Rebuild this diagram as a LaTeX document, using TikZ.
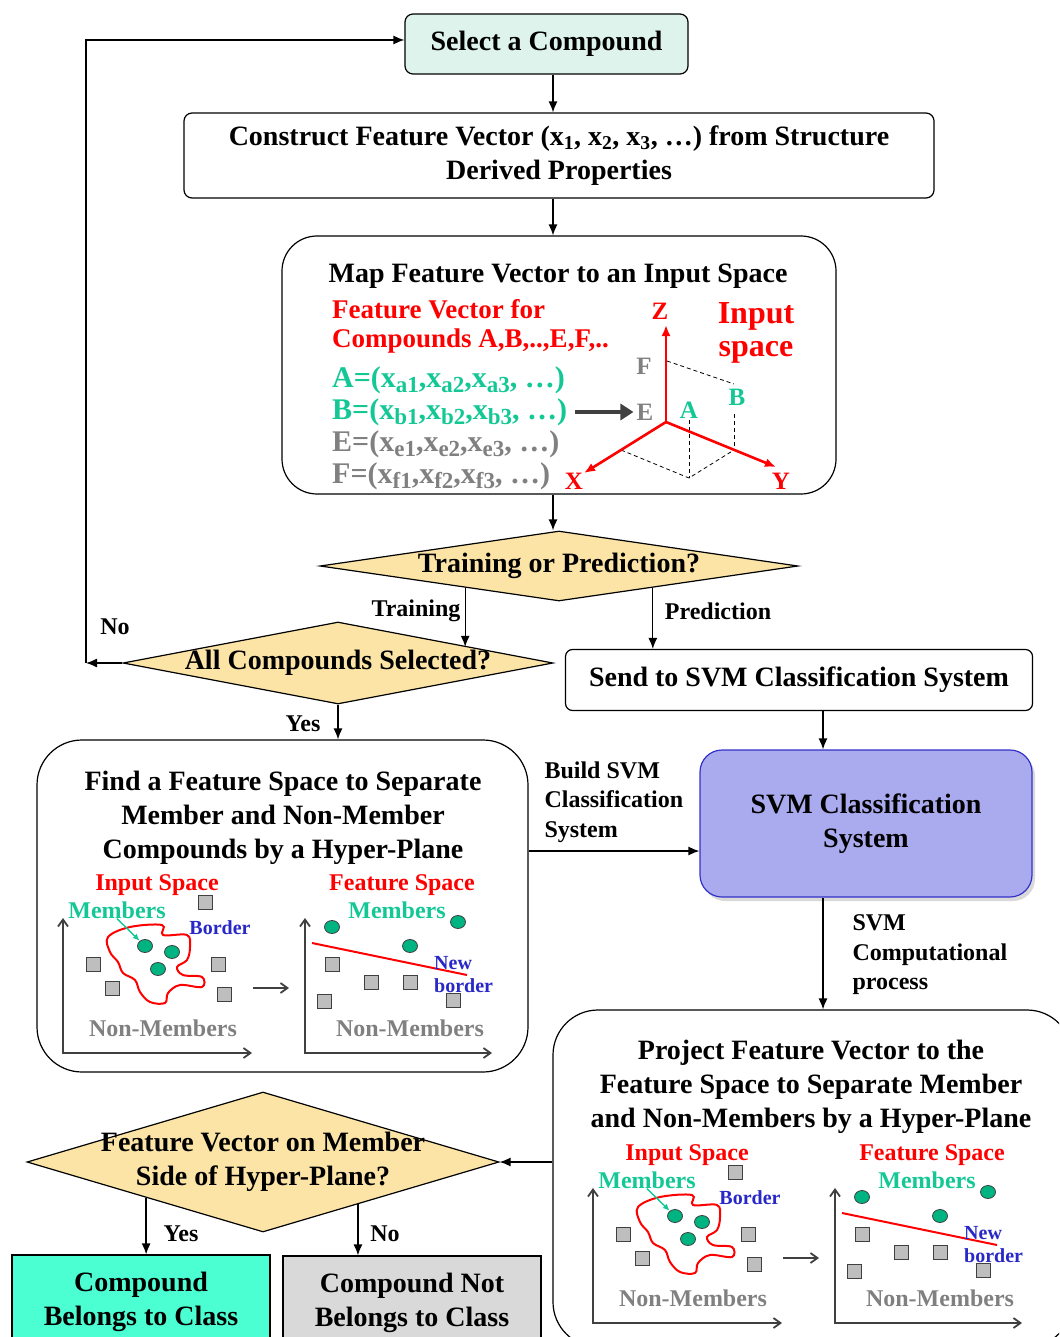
\documentclass[tikz,border=0pt]{standalone}
\usepackage{fontspec}
\setmainfont{Liberation Serif}
\usepackage{tikz}
\usetikzlibrary{arrows.meta,positioning,shapes.geometric,shadows}

\definecolor{mintfill}{RGB}{222,243,235}
\definecolor{askfill}{RGB}{251,228,166}
\definecolor{svmfill}{RGB}{170,170,238}
\definecolor{svmdraw}{RGB}{50,50,200}
\definecolor{yesfill}{RGB}{75,255,210}
\definecolor{nofill}{RGB}{217,217,217}
\definecolor{memgreen}{RGB}{20,200,150}
\definecolor{dotgreen}{RGB}{0,180,130}
\definecolor{bordblue}{RGB}{40,40,200}
\definecolor{nongrey}{RGB}{128,128,128}
\definecolor{sqfill}{RGB}{190,190,190}
\definecolor{axgrey}{RGB}{64,64,64}

% larger subscripts for the feature vectors
\newcommand{\vsub}[1]{\raisebox{-0.35ex}{\fontsize{23}{23}\selectfont #1}}

% the two small "input space -> feature space" plots (drawn in the frame of the Find box)
\newcommand{\spaceplots}{%
  % input space
  \draw[axis] (63,918) -- (63,1053) -- (252,1053);
  \draw[hull] plot[smooth cycle, tension=0.6] coordinates {(108,937) (130,927) (162,925) (163,935) (187,935)
    (190,947) (187,960) (177,967) (183,975) (202,977) (202,987) (180,985) (168,993) (165,1003)
    (150,1002) (140,992) (135,980) (123,973) (118,962) (110,952)};
  \node[spacelbl, text=red] (inlbl) at (157,885) {Input Space};
  \node[spacelbl, text=memgreen] (inmem) at (117,910) {Members};
  \node[bordlbl] (inbord) at (220,928) {Border};
  \node[spacelbl, text=nongrey] (innon) at (163,1028) {Non-Members};
  \node[member] (ina) at (145,946) {};
  \node[member] (inb) at (172,952) {};
  \node[member] (inc) at (158,969) {};
  \node[nonmember] (ins1) at (205,902) {};
  \node[nonmember] (ins2) at (93,964) {};
  \node[nonmember] (ins3) at (112,988) {};
  \node[nonmember] (ins4) at (218,964) {};
  \node[nonmember] (ins5) at (224,994) {};
  \draw[memarrow] (inmem.south) -- (ina);
  \draw[steparrow] (253,988) -- (289,988);
  % feature space
  \draw[axis] (305,918) -- (305,1053) -- (492,1053);
  \node[spacelbl, text=red] (ftlbl) at (402,885) {Feature Space};
  \node[spacelbl, text=memgreen] (ftmem) at (397,910) {Members};
  \node[spacelbl, text=nongrey] (ftnon) at (410,1028) {Non-Members};
  \draw[red, line width=2pt] (312,943) -- (467,975);
  \node[bordlbl, anchor=west, align=left] (ftbord) at (434,975) {New\\border};
  \node[member] (fta) at (332,927) {};
  \node[member] (ftb) at (458,922) {};
  \node[member] (ftc) at (410,946) {};
  \node[nonmember] (fts1) at (332,964) {};
  \node[nonmember] (fts2) at (371,982) {};
  \node[nonmember] (fts3) at (410,982) {};
  \node[nonmember] (fts4) at (324,1001) {};
  \node[nonmember] (fts5) at (453,1000) {};
}

\begin{document}
\begin{tikzpicture}[
  x=1pt, y=-1pt,
  font=\fontsize{28}{34}\selectfont\bfseries,
  box/.style={draw, rounded corners=8pt, line width=1.2pt, align=center, inner sep=0pt},
  endbox/.style={draw, line width=1.2pt, align=center, inner sep=0pt},
  decision/.style={diamond, draw, fill=askfill, line width=1.2pt, inner sep=0pt},
  lbl/.style={font=\fontsize{24}{29.5}\selectfont\bfseries, align=left},
  vecline/.style={font=\fontsize{30}{30}\selectfont\bfseries, anchor=west, align=left, inner sep=0pt},
  ptlbl/.style={font=\fontsize{25}{28}\selectfont\bfseries, inner sep=0pt},
  spacelbl/.style={font=\fontsize{24}{26}\selectfont\bfseries, inner sep=0pt},
  bordlbl/.style={font=\fontsize{20}{23}\selectfont\bfseries, text=bordblue, inner sep=0pt},
  member/.style={ellipse, draw=black!75, fill=dotgreen, minimum width=15pt, minimum height=13pt, inner sep=0pt, line width=0.8pt},
  nonmember/.style={draw=axgrey, fill=sqfill, minimum size=14pt, inner sep=0pt, line width=0.8pt},
  arrow/.style={-{Latex[length=11pt,width=9pt]}, line width=1.3pt},
  axis/.style={{Straight Barb[length=7pt,width=10pt]}-{Straight Barb[length=7pt,width=10pt]}, draw=axgrey, line width=1.8pt},
  hull/.style={draw=red, line width=2pt},
  memarrow/.style={-{Latex[length=7pt,width=6pt]}, draw=memgreen, line width=1.4pt},
  steparrow/.style={-{Straight Barb[length=7pt,width=10pt]}, draw=axgrey, line width=1.8pt},
  redaxis/.style={-{Latex[length=11pt,width=9pt]}, draw=red, line width=2.6pt},
  greyarrow/.style={-{Triangle[length=13pt,width=16pt]}, draw=axgrey, fill=axgrey, line width=4.5pt}
]
\useasboundingbox (0,0) rectangle (1059,1337);
\clip (0,0) rectangle (1059,1337);

\coordinate (midcol) at (553,0);
\coordinate (svmcol) at (823,0);
\coordinate (buildrow) at (0,851);
\coordinate (noturn) at (86,663);

\node[box, fill=mintfill, minimum width=283pt, minimum height=60pt] (select) at (546.5,44) {Select a Compound};

\node[box, minimum width=750pt, minimum height=85pt] (construct) at (559,155.5)
  {Construct Feature Vector (x\textsubscript{1}, x\textsubscript{2}, x\textsubscript{3}, …) from Structure\\Derived Properties};

% input space box
\node[box, rounded corners=35pt, minimum width=554pt, minimum height=258pt] (map) at (559,365) {};
\node (maptitle) at (558,276) {Map Feature Vector to an Input Space};
\node[vecline, font=\fontsize{27}{29}\selectfont\bfseries, text=red] (vecfor) at (332,326) {Feature Vector for\\Compounds A,B,..,E,F,..};
\node[vecline, text=memgreen] (veca) at (332,380) {A=(x\vsub{a1},x\vsub{a2},x\vsub{a3}, …)};
\node[vecline, text=memgreen] (vecb) at (332,412) {B=(x\vsub{b1},x\vsub{b2},x\vsub{b3}, …)};
\node[vecline, text=nongrey] (vece) at (332,444) {E=(x\vsub{e1},x\vsub{e2},x\vsub{e3}, …)};
\node[vecline, text=nongrey] (vecf) at (332,476) {F=(x\vsub{f1},x\vsub{f2},x\vsub{f3}, …)};
\node[text=red, font=\fontsize{32}{33}\selectfont\bfseries, align=center] (inspace) at (756,333) {Input\\space};

\coordinate (orig) at (666,422);
\draw[dash pattern=on 4pt off 3pt, line width=0.8pt] (667,361) -- (734,384);
\draw[dash pattern=on 4pt off 3pt, line width=0.8pt] (734,414) -- (734,450);
\draw[dash pattern=on 4pt off 3pt, line width=0.8pt] (621,450) -- (689,478) -- (734,450);
\draw[dash pattern=on 4pt off 3pt, line width=0.8pt] (689,420) -- (689,478);
\draw[redaxis] (orig) -- (666,325);
\draw[redaxis] (orig) -- (584,473);
\draw[redaxis] (orig) -- (776,467);
\node[ptlbl, text=red] (zlbl) at (660,311) {Z};
\node[ptlbl, text=red] (xlbl) at (574,481) {X};
\node[ptlbl, text=red] (ylbl) at (781,481) {Y};
\node[ptlbl, text=nongrey] (flbl) at (644,366) {F};
\node[ptlbl, text=nongrey] (elbl) at (645,412) {E};
\node[ptlbl, text=memgreen] (albl) at (689,410) {A};
\node[ptlbl, text=memgreen] (blbl) at (737,397) {B};
\draw[greyarrow, shorten <=8pt, shorten >=3pt] (vecb.east) -- (elbl.west);

\node[decision, minimum width=478pt, minimum height=70pt] (train) at (559,566) {};
\node (traintext) at (train) {Training or Prediction?};

\node[decision, minimum width=430pt, minimum height=82pt] (allsel) at (338,663) {};
\node (allseltext) at (allsel) {All Compounds Selected?};

\node[box, rounded corners=7pt, minimum width=467pt, minimum height=61pt] (send) at (799,680) {Send to SVM Classification System};

\node[box, fill=svmfill, draw=svmdraw, rounded corners=22pt, minimum width=332pt, minimum height=147pt,
  drop shadow={shadow xshift=3pt, shadow yshift=-4pt, opacity=0.3}] (svm) at (866,823.5) {SVM Classification\\System};

% training side: find the feature space
\node[box, rounded corners=45pt, minimum width=491pt, minimum height=332pt] (find) at (282.5,906) {};
\node[align=center] (findtitle) at (283,818) {Find a Feature Space to Separate\\Member and Non-Member\\Compounds by a Hyper-Plane};
\begin{scope}[name prefix=find-]
  \spaceplots
\end{scope}

% prediction side: project into the feature space
\node[box, rounded corners=45pt, minimum width=519pt, minimum height=337pt] (project) at (812.5,1178.5) {};
\node[align=center] (projtitle) at (811,1087) {Project Feature Vector to the\\Feature Space to Separate Member\\and Non-Members by a Hyper-Plane};
\begin{scope}[shift={(530,270)}, name prefix=proj-]
  \spaceplots
\end{scope}

\node[decision, minimum width=472pt, minimum height=140pt] (side) at (263,1162) {};
\node[align=center] (sidetext) at (side) {Feature Vector on Member\\Side of Hyper-Plane?};

\node[endbox, fill=yesfill, minimum width=258pt, minimum height=94pt] (belongs) at (141,1302) {Compound\\Belongs to Class};
\node[endbox, fill=nofill, minimum width=258pt, minimum height=94pt] (notbel) at (412,1303) {Compound Not\\Belongs to Class};

% edge labels
\node[lbl] (lbltrain) at (416,611) {Training};
\node[lbl] (lblpred) at (718,611) {Prediction};
\node[lbl] (lblno) at (115,627) {No};
\node[lbl] (lblyes) at (303,724) {Yes};
\node[lbl, anchor=west] (lblbuild) at (541,802) {Build SVM\\Classification\\System};
\node[lbl, anchor=west] (lblcomp) at (849,955) {SVM\\Computational\\process};
\node[lbl] (lblyes2) at (181,1234) {Yes};
\node[lbl] (lblno2) at (385,1234) {No};

\draw[arrow] (select.south -| midcol) -- (construct.north -| midcol);
\draw[arrow] (construct.south -| midcol) -- (map.north -| midcol);
\draw[arrow] (map.south -| midcol) -- (train.north -| midcol);
\draw[arrow] (train.193.2) -- (train.193.2 |- allsel.7.2);
\draw[arrow] (train.-13.2) -- (train.-13.2 |- send.north);
\draw[arrow] (allsel.west) -- (noturn);
\draw[arrow] (noturn) |- ([yshift=4pt]select.west);
\draw[arrow] (allsel.south) -- (allsel.south |- find.north);
\draw[arrow] (send.south -| svmcol) -- (svm.north -| svmcol);
\draw[arrow] (find.east |- buildrow) -- (svm.west |- buildrow);
\draw[arrow] (svm.south -| svmcol) -- (project.north -| svmcol);
\draw[arrow] (project.west |- side.east) -- (side.east);
\draw[arrow] (side.197.3) -- (side.197.3 |- belongs.north);
\draw[arrow] (side.-24.5) -- (side.-24.5 |- notbel.north);

\end{tikzpicture}
\end{document}
